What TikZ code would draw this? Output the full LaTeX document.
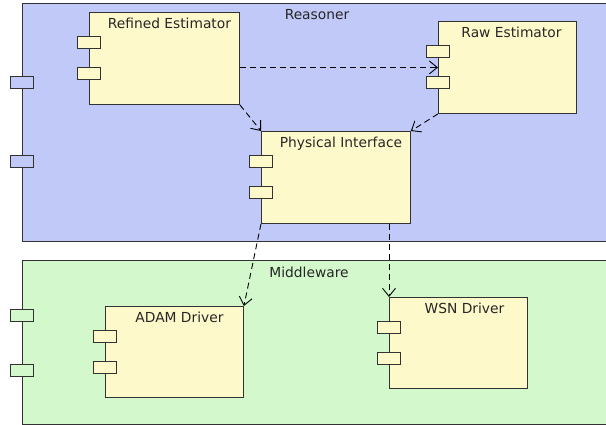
\documentclass[tikz,border=0pt]{standalone}
\usepackage{fontspec}
\setmainfont{DejaVu Sans}
\usetikzlibrary{arrows.meta}

\definecolor{reasonerblue}{RGB}{193,201,248}
\definecolor{middlegreen}{RGB}{211,248,204}
\definecolor{compyellow}{RGB}{254,249,203}
\definecolor{edgegray}{RGB}{50,50,50}

\begin{document}
\begin{tikzpicture}[x=1pt,y=-1pt,>={Straight Barb[length=8pt,width=13pt]},line width=0.9pt,
    package/.style={draw=edgegray,anchor=north west,inner sep=0pt},
    comp node/.style={draw=edgegray,fill=compyellow,anchor=north west,inner sep=0pt},
    port/.style={draw=edgegray,fill=compyellow,minimum width=23pt,minimum height=12pt,inner sep=0pt},
    title/.style={font=\fontsize{13.8}{16}\selectfont,text=black!85,inner sep=0pt,anchor=base},
    dep/.style={->,draw=black,dash pattern=on 6pt off 4pt}]

            \useasboundingbox[fill=white] (0,0) rectangle (606,425);

            \node[package, fill=reasonerblue, minimum width=590pt, minimum height=238pt] (reasoner) at (22,3) {};
            \node[package, fill=middlegreen, minimum width=590pt, minimum height=164pt] (middleware) at (22,260) {};

            \node[title] (reasonerlbl) at (317,20) {Reasoner};
            \node[title] (middlewarelbl) at (309,277) {Middleware};

            \node[port, fill=reasonerblue] (reasonerA) at ([shift={(0,79)}]reasoner.north west) {};
            \node[port, fill=reasonerblue] (reasonerB) at ([shift={(0,158.5)}]reasoner.north west) {};
            \node[port, fill=middlegreen] (middlewareA) at ([shift={(0,55)}]middleware.north west) {};
            \node[port, fill=middlegreen] (middlewareB) at ([shift={(0,110)}]middleware.north west) {};

            \node[comp node, minimum width=150pt, minimum height=92pt] (refined) at (89,12) {};
            \node[comp node, minimum width=138pt, minimum height=92pt] (raw) at (438,21) {};
            \node[comp node, minimum width=149pt, minimum height=92pt] (physical) at (261,131) {};
            \node[comp node, minimum width=138pt, minimum height=91pt] (adam) at (105,306) {};
            \node[comp node, minimum width=138pt, minimum height=91pt] (wsn) at (389,297) {};

            \node[title] (refinedlbl) at ([shift={(5,17)}]refined.north) {Refined Estimator};
            \node[title] (rawlbl) at ([shift={(4,17)}]raw.north) {Raw Estimator};
            \node[title] (physicallbl) at ([shift={(5,17)}]physical.north) {Physical Interface};
            \node[title] (adamlbl) at ([shift={(5,17)}]adam.north) {ADAM Driver};
            \node[title] (wsnlbl) at ([shift={(6,16.5)}]wsn.north) {WSN Driver};

            \node[port] (refinedA) at ([shift={(0,30)}]refined.north west) {};
            \node[port] (refinedB) at ([shift={(0,61)}]refined.north west) {};
            \node[port] (rawA) at ([shift={(0,30)}]raw.north west) {};
            \node[port] (rawB) at ([shift={(0,61)}]raw.north west) {};
            \node[port] (physicalA) at ([shift={(0,30)}]physical.north west) {};
            \node[port] (physicalB) at ([shift={(0,61)}]physical.north west) {};
            \node[port] (adamA) at ([shift={(0,30)}]adam.north west) {};
            \node[port] (adamB) at ([shift={(0,61)}]adam.north west) {};
            \node[port] (wsnA) at ([shift={(0,30)}]wsn.north west) {};
            \node[port] (wsnB) at ([shift={(0,61)}]wsn.north west) {};

            \draw[dep] (refined.east |- raw.west) to (raw.west);
            \draw[dep] (refined.south east) to (physical.north west);
            \draw[dep] (raw.south west) to (physical.north east);
            \draw[dep] (physical.south west) to (adam.north east);
            \draw[dep] (wsn.north west |- physical.south) to (wsn.north west);

            ;
        \end{tikzpicture}
\end{document}
